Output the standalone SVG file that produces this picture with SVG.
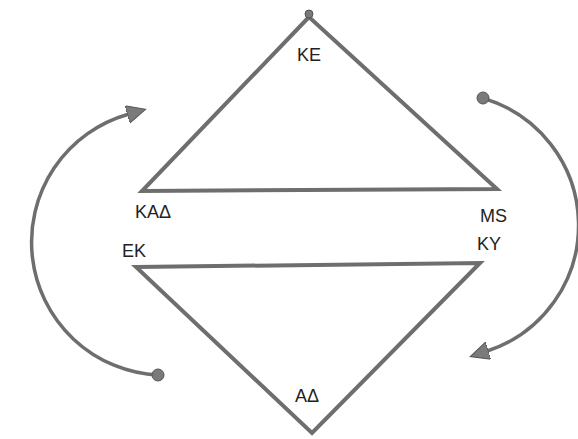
<svg xmlns="http://www.w3.org/2000/svg" width="578" height="439" viewBox="0 0 578 439">
  <style>
    .shape { fill: none; stroke: #6e6e6e; stroke-width: 4; stroke-linejoin: miter; }
    .arc { fill: none; stroke: #6e6e6e; stroke-width: 3.5; }
    .dot { fill: #7a7a7a; stroke: #555; stroke-width: 1; }
    .lbl { font-family: "Liberation Sans", Arial, sans-serif; font-size: 18px; fill: #222; }
  </style>
  <defs>
    <marker id="arrow" markerUnits="userSpaceOnUse" markerWidth="22" markerHeight="22" refX="1" refY="9" orient="auto">
      <path d="M0,0 L19,9 L0,18 Z" fill="#7a7a7a" stroke="#555" stroke-width="1"/>
    </marker>
  </defs>
  <rect width="578" height="439" fill="#ffffff"/>

  <g id="upper-triangle">
    <polygon class="shape" points="309,17 142,191 497,189"/>
    <circle class="dot" cx="309" cy="14" r="4"/>
  </g>
  <g id="lower-triangle">
    <polygon class="shape" points="136,267 480,263 312,433"/>
  </g>

  <g id="connectors">
    <path class="arc" d="M158,375 A133,133 0 0 1 128.3,114.2" marker-end="url(#arrow)"/>
    <circle class="dot" cx="158" cy="375" r="6"/>
    <path class="arc" d="M482,98 A132.2,132.2 0 0 1 487.3,351" marker-end="url(#arrow)"/>
    <circle class="dot" cx="483" cy="98" r="6"/>
  </g>

  <g id="label-KE"><text class="lbl" x="309" y="61" text-anchor="middle">ΚΕ</text></g>
  <g id="label-KAD"><text class="lbl" x="135" y="218">ΚΑΔ</text></g>
  <g id="label-MS"><text class="lbl" x="480" y="222">MS</text></g>
  <g id="label-EK"><text class="lbl" x="122" y="257">ΕΚ</text></g>
  <g id="label-KY"><text class="lbl" x="477" y="250">ΚΥ</text></g>
  <g id="label-AD"><text class="lbl" x="295" y="402">ΑΔ</text></g>
</svg>
